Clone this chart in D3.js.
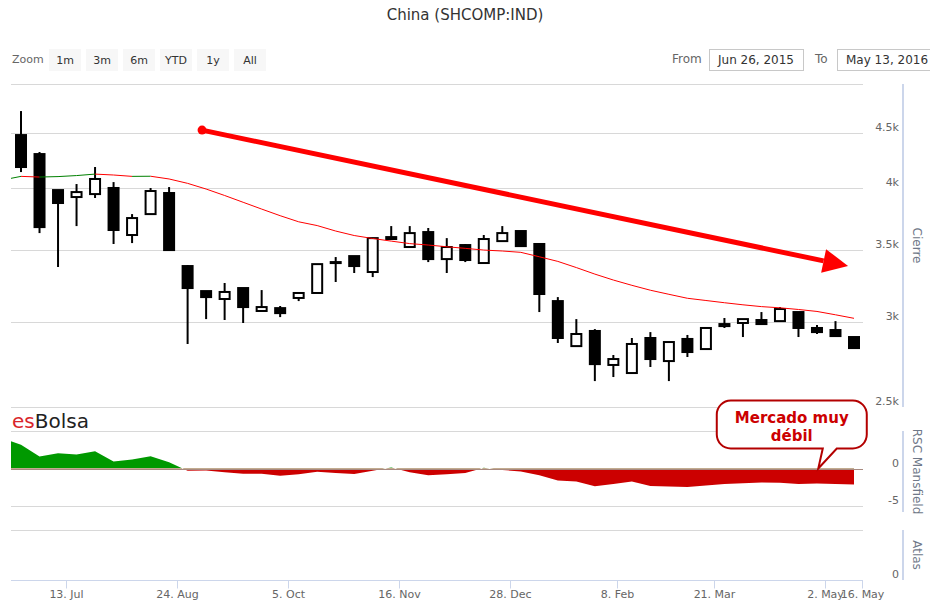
<!DOCTYPE html>
<html>
<head>
<meta charset="utf-8">
<script src="https://cdn.jsdelivr.net/npm/d3@7"></script>
<style>
  body { margin: 0; background: #fff; }
  text { font-family: "DejaVu Sans", sans-serif; }
</style>
</head>
<body>
<svg id="chart" width="930" height="603"></svg>
<script>
// weekly bars (Friday dates); the first week only feeds the indicators
const weeks = [
  "2015-06-19","2015-06-26","2015-07-03","2015-07-10","2015-07-17","2015-07-24","2015-07-31",
  "2015-08-07","2015-08-14","2015-08-21","2015-08-28","2015-09-04","2015-09-11","2015-09-18",
  "2015-09-25","2015-10-02","2015-10-09","2015-10-16","2015-10-23","2015-10-30","2015-11-06",
  "2015-11-13","2015-11-20","2015-11-27","2015-12-04","2015-12-11","2015-12-18","2015-12-25",
  "2016-01-01","2016-01-08","2016-01-15","2016-01-22","2016-01-29","2016-02-05","2016-02-19",
  "2016-02-26","2016-03-04","2016-03-11","2016-03-18","2016-03-25","2016-04-01","2016-04-08",
  "2016-04-15","2016-04-22","2016-04-29","2016-05-06","2016-05-13"
];

// OHLC from Jun 26, 2015
const opens  = [4481,4302,3982,3923,3948,4000,3616,3782,3957,3383,3206,3152,3227,3072,3091,3159,
                3193,3412,3456,3340,3600,3524,3639,3434,3539,3405,3569,3647,3547,3138,2849,2943,
                2736,2689,2899,2759,2893,2831,2974,2994,3013,3006,3065,2962,2949,2905];
const highs  = [4718,4321,3982,4034,4184,4051,3782,4000,4008,3390,3206,3262,3227,3213,3105,3193,
                3397,3449,3456,3592,3686,3686,3671,3592,3547,3616,3686,3647,3547,3165,3019,2955,
                2795,2899,2936,2874,2918,2968,3026,3019,3065,3098,3065,2981,3006,2905];
const lows   = [4139,3631,3376,3686,3915,3547,3554,3782,3494,2862,3019,3013,2994,3072,3032,3138,
                3193,3269,3333,3304,3585,3524,3412,3333,3412,3405,3569,3524,3065,2868,2849,2643,
                2666,2689,2724,2643,2783,2831,2962,2905,2981,3006,2905,2924,2911,2831];
const closes = [4184,3678,3873,3965,4078,3655,3750,3974,3501,3227,3165,3200,3098,3098,3058,3193,
                3397,3405,3383,3592,3585,3631,3434,3524,3427,3585,3631,3531,3186,2899,2924,2741,
                2771,2862,2771,2874,2813,2962,2987,3019,2987,3085,2962,2936,2911,2837];

// moving average and RSC Mansfield, one value per week (from Jun 19)
const movingAvg = [4069,4101,4095,4099,4108,4121,4113,4101,4102,4078,4040,3991,3936,3879,3823,3769,
                   3720,3690,3647,3612,3589,3569,3550,3539,3526,3514,3501,3494,3484,3451,3417,3372,
                   3325,3283,3246,3212,3184,3157,3142,3127,3113,3101,3093,3082,3069,3047,3024];
const rscMansfield = [4.05,3.16,1.6,2.04,1.87,2.31,0.93,1.2,1.64,0.84,-0.31,-0.27,-0.49,-0.71,-0.71,
                      -0.97,-0.75,-0.44,-0.6,-0.73,-0.3,0.15,-0.5,-0.89,-0.75,-0.6,0.09,-0.2,-0.4,
                      -0.9,-1.59,-1.73,-2.37,-2.05,-1.73,-2.33,-2.4,-2.48,-2.25,-2.05,-1.95,-1.85,
                      -1.9,-2.08,-1.99,-2.05,-2.13];

const priceTicks  = [2500, 3000, 3500, 4000, 4500, 5000];
const priceLabels = ["2.5k", "3k", "3.5k", "4k", "4.5k", ""];
const rscTicks    = [5, 0, -5];
const rscLabels   = ["", "0", "-5"];
const dateTicks   = ["2015-07-13","2015-08-24","2015-10-05","2015-11-16","2015-12-28",
                     "2016-02-08","2016-03-21","2016-05-02","2016-05-16"];
const dateLabels  = ["13. Jul","24. Aug","5. Oct","16. Nov","28. Dec","8. Feb","21. Mar","2. May","16. May"];
const zoomButtons = ["1m", "3m", "6m", "YTD", "1y", "All"];

// annotations: [week position, value]
const trendArrow  = [[10.78, 4529], [45.68, 3383]];
const calloutAt   = [44.07, 0];
const calloutText = ["Mercado muy", "débil"];

/*
 * Layout
 */
const W = 930, H = 603;
const left = 11, right = 863, axisX = 903;
const panes = {
  price: [84, 407],
  rsc:   [431, 512],
  atlas: [530, 580]
};
const grid = "#d8d8d8", axisCol = "#ccd6eb", labelCol = "#666";

const svg = d3.select("#chart");
svg.append("rect").attr("width", W).attr("height", H).attr("fill", "#fff");

const parse = d3.utcParse("%Y-%m-%d");
const weekTimes = weeks.map(parse);
// ordinal axis: dates -> position of week, interpolated between bars
const ordinal = d3.scaleLinear().domain(weekTimes).range(d3.range(weeks.length));
const x = d3.scaleLinear().domain([0, weeks.length - 1]).range([2.5, 854]);
const yPrice = d3.scaleLog().domain([2500, 5000]).range([panes.price[1], panes.price[0]]);
const yRsc = d3.scaleLinear().domain([-5.8, 5]).range([panes.rsc[1], panes.rsc[0]]);
const yAtlas = d3.scaleLinear().domain([0, 1]).range([panes.atlas[1], panes.atlas[0]]);

const defs = svg.append("defs");
function clip(id, y0, y1) {
  defs.append("clipPath").attr("id", id)
    .append("rect").attr("x", left).attr("y", y0).attr("width", right - left).attr("height", y1 - y0);
  return "url(#" + id + ")";
}

/*
 * Title and range selector
 */
svg.append("text").attr("x", W / 2).attr("y", 20).attr("text-anchor", "middle")
  .attr("font-size", "15px").attr("fill", "#333").text("China (SHCOMP:IND)");

svg.append("text").attr("x", 12).attr("y", 63).attr("font-size", "11px").attr("fill", labelCol).text("Zoom");
const btn = svg.selectAll("g.btn").data(zoomButtons).enter().append("g")
  .attr("transform", (d, i) => "translate(" + (49 + i * 37) + ",49)");
btn.append("rect").attr("width", 32).attr("height", 22).attr("fill", "#f7f7f7");
btn.append("text").attr("x", 16).attr("y", 15).attr("text-anchor", "middle")
  .attr("font-size", "11px").attr("fill", "#333").text(d => d);

function inputBox(label, lx, bx, value) {
  svg.append("text").attr("x", lx).attr("y", 63).attr("font-size", "12px").attr("fill", labelCol).text(label);
  svg.append("rect").attr("x", bx + 0.5).attr("y", 49.5).attr("width", 94).attr("height", 21)
    .attr("fill", "#fff").attr("stroke", "#c8c8c8");
  svg.append("text").attr("x", bx + 9).attr("y", 64).attr("font-size", "12px").attr("fill", "#333").text(value);
}
inputBox("From", 672, 709, "Jun 26, 2015");
inputBox("To", 815, 837, "May 13, 2016");

/*
 * Grid lines and axes
 */
function hLines(ticks, scale, color) {
  svg.append("g").selectAll("line").data(ticks).enter().append("line")
    .attr("x1", left).attr("x2", right)
    .attr("y1", d => Math.round(scale(d)) + 0.5).attr("y2", d => Math.round(scale(d)) + 0.5)
    .attr("stroke", color || grid);
}
hLines(priceTicks, yPrice);
hLines(rscTicks.filter(d => d !== 0), yRsc);
hLines([1], yAtlas);

function yLabels(ticks, labels, scale) {
  svg.append("g").selectAll("text").data(ticks).enter().append("text")
    .attr("x", 899).attr("y", d => scale(d) - 2).attr("text-anchor", "end")
    .attr("font-size", "11px").attr("fill", labelCol).text((d, i) => labels[i]);
}
yLabels(priceTicks, priceLabels, yPrice);
yLabels(rscTicks, rscLabels, yRsc);
yLabels([0], ["0"], yAtlas);

[["Cierre", panes.price], ["RSC Mansfield", panes.rsc], ["Atlas", panes.atlas]].forEach(function(p) {
  svg.append("line").attr("x1", axisX).attr("x2", axisX).attr("y1", p[1][0]).attr("y2", p[1][1])
    .attr("stroke", axisCol).attr("stroke-width", 2);
  const cy = (p[1][0] + p[1][1]) / 2;
  svg.append("text").attr("transform", "translate(913," + cy + ") rotate(90)")
    .attr("text-anchor", "middle").attr("font-size", "12px").attr("fill", "#6f7888").text(p[0]);
});

// x axis
const xAxisY = panes.atlas[1] + 0.5;
svg.append("line").attr("x1", left).attr("x2", right).attr("y1", xAxisY).attr("y2", xAxisY).attr("stroke", axisCol);
const tickPos = dateTicks.map(d => x(ordinal(parse(d))));
const xt = svg.append("g").selectAll("g").data(tickPos).enter().append("g")
  .attr("transform", d => "translate(" + (Math.round(d) + 0.5) + ",0)");
xt.append("line").attr("y1", xAxisY).attr("y2", xAxisY + 8).attr("stroke", axisCol);
xt.append("text").attr("y", 598).attr("text-anchor", "middle")
  .attr("font-size", "11px").attr("fill", labelCol).text((d, i) => dateLabels[i]);

/*
 * Logo
 */
const logo = svg.append("text").attr("x", 12).attr("y", 428)
  .attr("font-family", "'Liberation Sans', Arial, sans-serif").attr("font-size", "20px");
logo.append("tspan").attr("fill", "#d9262b").text("es");
logo.append("tspan").attr("fill", "#222").text("Bolsa");

/*
 * RSC Mansfield area, green above zero and red below
 */
const rscArea = d3.area()
  .x((d, i) => x(i)).y0(yRsc(0)).y1(d => yRsc(d));
svg.append("path").datum(rscMansfield).attr("d", rscArea).attr("fill", "#009900")
  .attr("clip-path", clip("rscUp", panes.rsc[0] - 20, yRsc(0)));
svg.append("path").datum(rscMansfield).attr("d", rscArea).attr("fill", "#cc0000")
  .attr("clip-path", clip("rscDown", yRsc(0), panes.rsc[1]));
hLines([0], yRsc, "#a88a80");

/*
 * Candlesticks
 */
const priceClip = clip("price", panes.price[0], panes.price[1]);
const bars = opens.map((o, i) => ({ i: i + 1, o: o, h: highs[i], l: lows[i], c: closes[i] }));
const candles = svg.append("g").attr("clip-path", priceClip)
  .selectAll("g").data(bars).enter().append("g");
candles.append("line")
  .attr("x1", d => x(d.i)).attr("x2", d => x(d.i))
  .attr("y1", d => yPrice(d.h)).attr("y2", d => yPrice(d.l))
  .attr("stroke", "#000").attr("stroke-width", 2);
candles.append("rect")
  .attr("x", d => x(d.i) - 5).attr("width", 10)
  .attr("y", d => yPrice(Math.max(d.o, d.c)))
  .attr("height", d => Math.max(1, yPrice(Math.min(d.o, d.c)) - yPrice(Math.max(d.o, d.c))))
  .attr("fill", d => d.c < d.o ? "#000" : "#fff")
  .attr("stroke", "#000").attr("stroke-width", 2);

// moving average, green while rising, red while falling
svg.append("g").attr("clip-path", priceClip)
  .selectAll("line").data(d3.pairs(movingAvg.map((v, i) => [i, v]))).enter().append("line")
  .attr("x1", d => x(d[0][0])).attr("y1", d => yPrice(d[0][1]))
  .attr("x2", d => x(d[1][0])).attr("y2", d => yPrice(d[1][1]))
  .attr("stroke", d => d[1][1] >= d[0][1] ? "#008000" : "#ff0000")
  .attr("stroke-width", 1);

/*
 * Trend arrow
 */
const a0 = [x(trendArrow[0][0]), yPrice(trendArrow[0][1])];
const a1 = [x(trendArrow[1][0]), yPrice(trendArrow[1][1])];
const ang = Math.atan2(a1[1] - a0[1], a1[0] - a0[0]);
const headLen = 25, headHalf = 12;
const base = [a1[0] - headLen * Math.cos(ang), a1[1] - headLen * Math.sin(ang)];
svg.append("line").attr("x1", a0[0]).attr("y1", a0[1]).attr("x2", base[0]).attr("y2", base[1])
  .attr("stroke", "#ff0000").attr("stroke-width", 5);
svg.append("circle").attr("cx", a0[0]).attr("cy", a0[1]).attr("r", 4.5).attr("fill", "#ff0000");
svg.append("path")
  .attr("d", "M" + a1 + "L" + [base[0] + headHalf * Math.sin(ang), base[1] - headHalf * Math.cos(ang)] +
             "L" + [base[0] - headHalf * Math.sin(ang), base[1] + headHalf * Math.cos(ang)] + "Z")
  .attr("fill", "#ff0000");

/*
 * Callout
 */
const tx = x(calloutAt[0]), ty = yRsc(calloutAt[1]);
const bl = tx - 101.5, br = tx + 48.5, bt = ty - 68, bb = ty - 20, r = 14;
const bubble = "M" + (bl + r) + "," + bt + "H" + (br - r) +
  "A" + r + "," + r + " 0 0 1 " + br + "," + (bt + r) + "V" + (bb - r) +
  "A" + r + "," + r + " 0 0 1 " + (br - r) + "," + bb + "H" + (tx + 18.5) +
  "L" + tx + "," + ty + "L" + (tx + 4.5) + "," + bb + "H" + (bl + r) +
  "A" + r + "," + r + " 0 0 1 " + bl + "," + (bb - r) + "V" + (bt + r) +
  "A" + r + "," + r + " 0 0 1 " + (bl + r) + "," + bt + "Z";
svg.append("path").attr("d", bubble).attr("fill", "#fff").attr("stroke", "#b30000").attr("stroke-width", 2);
svg.append("g").selectAll("text").data(calloutText).enter().append("text")
  .attr("x", bl + 75).attr("y", (d, i) => bt + 22 + i * 18.5).attr("text-anchor", "middle")
  .attr("font-family", "'Liberation Sans', Arial, sans-serif").attr("font-weight", "bold")
  .attr("font-size", "15px").attr("fill", "#cc0000").text(d => d);
</script>
</body>
</html>
